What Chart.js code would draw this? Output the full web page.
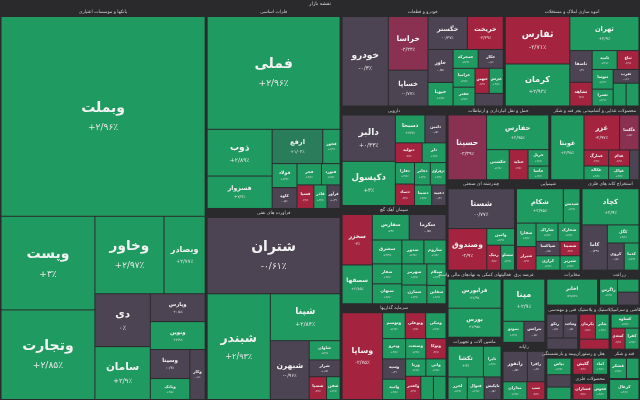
<!DOCTYPE html>
<html><head><meta charset="utf-8">
<script src="https://cdn.jsdelivr.net/npm/chart.js@4"></script>
<style>html,body{margin:0;padding:0;background:#2a2a2d}#w{width:640px;height:400px}</style>
</head><body><div id="w"><canvas id="c"></canvas></div>
<script>
const title = "نقشه بازار";
const sectorNames = ["بانکها و موسسات اعتباری","فلزات اساسی","فراورده های نفتی","خودرو و قطعات","انبوه سازی املاک و مستغلات","سرمایه گذاریها","دارویی","سیمان آهک گچ","حمل و نقل انبارداری و ارتباطات","محصولات غذایی و آشامیدنی بجز قند و شکر","چندرشته ای صنعتی","شیمیایی","استخراج کانه های فلزی","فعالیتهای کمکی به نهادهای مالی واسط","ماشین آلات و تجهیزات","عرضه برق","رایانه","مخابرات","زراعت","فنی و مهندسی","لاستیک و پلاستیک","کاشی و سرامیک","بیمه و بازنشستگی","هتل و رستوران","محصولات فلزی","قند و شکر","استخراج ذغال سنگ"];
const stockNames = [
 ["وبملت","وپست","وتجارت","وخاور","وبصادر","دی","سامان","وپارس","ونوین","وسینا","وکار","وبانک"],
 ["فملی","ذوب","فسزوار","ارفع","فخوز","فولاد","کاوه","فجر","فنورد","فسپا","فاذر","فرآور"],
 ["شتران","شبندر","شپنا","شبهرن","شاوان","شراز","شسپا","شفن"],
 ["خودرو","خراسا","خساپا","خگستر","خریخت","خاور","خپویا","خمحرکه","خکار","خزامیا","خفنر","خبهمن","خچرخش","خلنت"],
 ["ثفارس","کرمان","ثهران","ثاصفا","ثشاهد","ثامید","ثباغ","ثنوسا","ثعمرا","ثغرب","ثشرق","ثمسکن"],
 ["وساپا","وتوسم","وبوعلی","ونیکی","وپترو","وسپه","وامید","وصنعت","وتوکا","ورنا","واتی","وکغدیر","ولساپا","وسکاب"],
 ["دالبر","دکپسول","دسبحا","دامین","دتولید","دلر","دفارا","دتماد","دجابر","دزهراوی","دسینا","دعبید"],
 ["سخزر","سصفها","سفارس","سکرما","سشرق","سفار","سبهان","سدور","ساروم","سهرمز","سمازن","سیلام","سقاین"],
 ["حسینا","حفارس","حکشتی","حتاید","حریل","حآسا"],
 ["غوبتا","غزر","غگلسا","غمارگ","غکاله","غدام","غپاک","غبشهر"],
 ["شستا","وصندوق","وامین","رنیک","سیسکو"],
 ["شکام","شپدیس","شفارا","شیراز","شاراک","شخارک","شپاکسا","کرازی","شسینا","شبریز"],
 ["کچاد","کاما","کگل","کروی","کدما"],
 ["فرابورس","بورس"],
 ["تکشا","تایرا","لخزر","فنوال","تاپکیش"],
 ["مپنا","بموتو","بترانس"],
 ["رانفور","رافزا","مداران","سپ"],
 ["اخابر"],
 ["زاگرس","زکوثر","زشگزا"],
 ["رتکو","وساخت","کیسون"],
 ["پکرمان","پتایر","پاکشو"],
 ["کساوه","کسعدی","کفرا"],
 ["بپاس","ودی","کما"],
 ["گکیش","اماد"],
 ["فسازان","فجوش"],
 ["قشکر","قثابت"],
 ["کزغال"]
];
const stockSizes = [
 [32,6.9,6.6,4.2,2.5,2.3,2.3,1.2,1.2,0.9,0.6,0.65],
 [12.1,2.45,1.7,1.4,0.48,0.48,0.42,0.42,0.32,0.32,0.25,0.25],
 [8.2,5.4,2.65,1.85,0.48,0.42,0.32,0.25],
 [3.5,1.8,1.2,1.1,1.0,0.7,0.5,0.4,0.4,0.35,0.35,0.3,0.3,0.3],
 [2.6,2.3,2.0,0.6,0.45,0.4,0.35,0.35,0.3,0.3,0.25,0.25],
 [3.0,0.5,0.45,0.45,0.4,0.4,0.4,0.35,0.35,0.3,0.3,0.3,0.25,0.25],
 [2.1,2.0,0.7,0.5,0.45,0.4,0.35,0.35,0.3,0.3,0.3,0.25],
 [1.3,1.0,0.8,0.8,0.6,0.5,0.5,0.45,0.45,0.45,0.4,0.35,0.3],
 [2.2,1.9,0.6,0.5,0.3,0.25],
 [1.9,1.1,0.6,0.35,0.3,0.3,0.25,0.25],
 [2.3,1.4,0.4,0.3,0.3],
 [1.4,0.5,0.4,0.4,0.35,0.35,0.3,0.3,0.25,0.25],
 [1.8,1.0,0.5,0.4,0.35],
 [1.4,1.4],
 [1.0,0.5,0.4,0.35,0.35],
 [1.6,0.4,0.4],
 [0.7,0.5,0.4,0.3],
 [1.4],
 [0.5,0.3,0.3],
 [0.4,0.35,0.35],
 [0.4,0.35,0.3],
 [0.4,0.3,0.3],
 [0.4,0.3,0.3],
 [0.4,0.3],
 [0.4,0.3],
 [0.4,0.3],
 [0.5]
];
const stockChanges = [
 [2.96,3,2.85,2.97,2.77,0,2.9,0.5,2.9,-0.4,-0.6,2.8],
 [2.96,2.89,2.9,1.04,2.9,2.9,-0.5,2.9,2.8,-2.9,2.9,0.3],
 [-0.61,2.93,2.84,-0.96,2.9,0.5,-2.9,2.9],
 [-0.3,-2.34,-0.77,-0.37,-3.39,-0.5,2.9,2.9,-0.6,2.9,2.9,-2.9,2.9,-0.5],
 [-2.71,2.93,2.9,-0.4,-2.9,2.9,-2.9,2.9,2.9,-0.6,2.9,2.9],
 [-2.75,2.9,-2.9,2.9,2.9,-0.4,2.9,2.9,-2.9,2.9,2.9,-2.9,2.9,2.9],
 [0.33,3,2.9,-0.5,-2.9,2.9,2.9,-2.9,2.9,2.9,2.9,-0.4],
 [-3,2.85,3,-0.5,2.9,2.9,2.9,2.9,2.9,2.9,2.9,2.9,2.9],
 [-2.39,2.95,2.9,-2.9,2.9,2.9],
 [2.98,-2.97,-1.5,-2.9,2.9,-2.9,2.9,-0.4],
 [-0.77,-2.9,2.9,-2.9,2.9],
 [2.95,2.9,2.9,-2.9,2.9,2.9,-0.5,2.9,-2.9,2.9],
 [2.9,-0.39,2.9,-0.5,2.9],
 [2.9,2.95],
 [3,2.9,2.9,2.9,-0.5],
 [2.9,2.9,-0.5],
 [-0.5,-0.5,2.9,-2.9],
 [2.87],
 [2.9,2.9,-0.4],
 [-0.5,-0.5,-0.5],
 [-2.9,2.9,-2.9],
 [2.9,-2.9,2.9],
 [2.9,-0.5,2.9],
 [-2.9,2.9],
 [-2.9,2.9],
 [2.9,2.9],
 [2.9]
];

function worst(row, side){
  let s=0,mx=-Infinity,mn=Infinity;
  for(const a of row){s+=a;mx=Math.max(mx,a);mn=Math.min(mn,a);}
  const s2=side*side;
  return Math.max(s2*mx/(s*s),(s*s)/(s2*mn));
}
function squarify(vals,x,y,w,h){
  const idx=vals.map((v,i)=>i).sort((a,b)=>vals[b]-vals[a]);
  const tot=vals.reduce((a,b)=>a+b,0);
  const areas=idx.map(i=>vals[i]*w*h/tot);
  const out=new Array(vals.length);
  let i=0;
  while(i<areas.length){
    const side=Math.min(w,h);
    let row=[areas[i]],j=i+1;
    while(j<areas.length){
      const nr=row.concat(areas[j]);
      if(worst(nr,side)<=worst(row,side)){row=nr;j++;}else break;
    }
    const s=row.reduce((a,b)=>a+b,0);
    if(w>=h){
      const rw=s/h;let yy=y;
      row.forEach((a,k)=>{const rh=a/rw;out[idx[i+k]]=[x,yy,rw,rh];yy+=rh;});
      x+=rw;w-=rw;
    }else{
      const rh=s/w;let xx=x;
      row.forEach((a,k)=>{const cw=a/rh;out[idx[i+k]]=[xx,y,cw,rh];xx+=cw;});
      y+=rh;h-=rh;
    }
    i=j;
  }
  return out;
}
function color(p){
  if(p>=2.5) return '#1f9a60';
  if(p>=1) return '#2a7d5a';
  if(p<=-2.5) return '#a4243f';
  if(p<=-1) return '#8a3050';
  return '#4c4453';
}
function fa(s){return s.replace(/[0-9]/g,d=>'۰۱۲۳۴۵۶۷۸۹'[d]);}
function fmt(p){
  const a=Math.abs(p);let t=String(parseFloat(a.toFixed(2))).replace('.','/');
  return (p>0?'+':p<0?'-':'')+fa(t)+'٪';
}

const treemapPlugin={
  id:'treemap',
  beforeDraw(chart){const c=chart.ctx;c.save();c.fillStyle='#2a2a2d';c.fillRect(0,0,chart.width,chart.height);c.restore();},
  afterDraw(chart){
    const ctx=chart.ctx, xs=chart.scales.x, ys=chart.scales.y;
    const P=(x,y)=>[xs.getPixelForValue(x),ys.getPixelForValue(y)];
    ctx.save();
    ctx.textAlign='center';ctx.textBaseline='middle';
    ctx.fillStyle='#ddd';ctx.font='5px "DejaVu Sans"';
    const t=P(320,4);ctx.fillText(title,t[0],t[1]);
    const sectorTotals=stockSizes.map(a=>a.reduce((p,q)=>p+q,0));
    const secRects=squarify(sectorTotals,0,8,640,392);
    secRects.forEach((r,si)=>{
      const [sx,sy,sw,sh]=r;
      const hdr=(sh>25&&sw>25)?8:0;
      if(hdr){
        const p=P(sx+sw/2,sy+4);
        ctx.fillStyle='#cfcfcf';ctx.font='4.5px "DejaVu Sans"';
        ctx.fillText(sectorNames[si],p[0],p[1]);
      }
      const rects=squarify(stockSizes[si],sx+1,sy+hdr+0.5,Math.max(sw-2,1),Math.max(sh-hdr-1,1));
      rects.forEach((cr,k)=>{
        const [a,b]=P(cr[0]+0.5,cr[1]+0.5),[c2,d]=P(cr[0]+cr[2]-0.5,cr[1]+cr[3]-0.5);
        const w=c2-a,h=d-b; if(w<=0||h<=0)return;
        const pc=stockChanges[si][k];
        ctx.fillStyle=color(pc);ctx.fillRect(a,b,w,h);
        const m=Math.min(w,h);
        if(m<12)return;
        let fs=Math.min(14,Math.max(4,m/5));
        ctx.fillStyle='#f2f2f2';
        ctx.font='bold '+fs+'px "DejaVu Sans"';
        let nm=stockNames[si][k];
        ctx.fillText(nm,a+w/2,b+h/2-fs*0.6,w-2);
        ctx.font=(fs*0.65)+'px "DejaVu Sans"';
        ctx.fillStyle='#e6e6e6';
        ctx.fillText(fmt(pc),a+w/2,b+h/2+fs*0.8,w-2);
      });
    });
    ctx.restore();
  }
};

new Chart(document.getElementById('c'),{
  type:'scatter',
  data:{datasets:[{data:[],pointRadius:0}]},
  options:{
    responsive:true,maintainAspectRatio:false,animation:false,
    layout:{padding:0},
    plugins:{legend:{display:false},tooltip:{enabled:false}},
    scales:{x:{type:'linear',min:0,max:640,display:false},y:{type:'linear',min:0,max:400,reverse:true,display:false}}
  },
  plugins:[treemapPlugin]
});
</script></body></html>
